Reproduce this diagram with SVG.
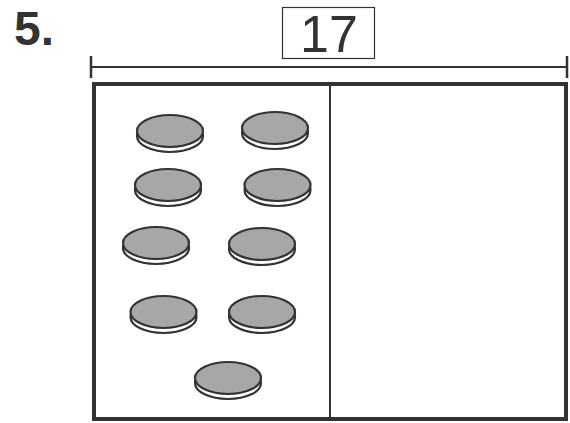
<svg xmlns="http://www.w3.org/2000/svg" width="570" height="423" viewBox="0 0 570 423">
<style>
.ln{stroke:#333;fill:none}
.base{fill:#fff;stroke:#333;stroke-width:2.2}
.top{fill:#a7a7a7;stroke:#333;stroke-width:2.2}
</style>
<defs>
<g id="coin">
<ellipse class="base" cx="0" cy="5" rx="33" ry="16"/>
<ellipse class="top" cx="0" cy="0" rx="33" ry="16"/>
</g>
</defs>
<rect width="570" height="423" fill="#fff"/>
<g id="number">
<text x="14" y="45" font-family="Liberation Sans, Arial, sans-serif" font-weight="bold" font-size="48" fill="#333">5.</text>
</g>
<g id="label">
<rect x="282.5" y="7.5" width="92" height="51" fill="#fff" stroke="#333" stroke-width="1.2"/>
<text x="329" y="52" text-anchor="middle" font-family="Liberation Sans, Arial, sans-serif" font-size="52" fill="#333">17</text>
</g>
<g id="bar">
<line class="ln" x1="91" y1="67" x2="567" y2="67" stroke-width="2"/>
<line class="ln" x1="91" y1="56" x2="91" y2="78" stroke-width="2.5"/>
<line class="ln" x1="567" y1="56" x2="567" y2="78" stroke-width="2.5"/>
</g>
<g id="box">
<rect x="94" y="84" width="472" height="335" fill="none" stroke="#333" stroke-width="4"/>
<line class="ln" x1="330" y1="84" x2="330" y2="419" stroke-width="2"/>
</g>
<g id="coins">
<use href="#coin" x="170" y="131"/>
<use href="#coin" x="275" y="128"/>
<use href="#coin" x="168" y="185"/>
<use href="#coin" x="277.5" y="185"/>
<use href="#coin" x="156" y="243"/>
<use href="#coin" x="262" y="244"/>
<use href="#coin" x="163.5" y="312"/>
<use href="#coin" x="262" y="312"/>
<use href="#coin" x="228" y="378"/>
</g>
</svg>
